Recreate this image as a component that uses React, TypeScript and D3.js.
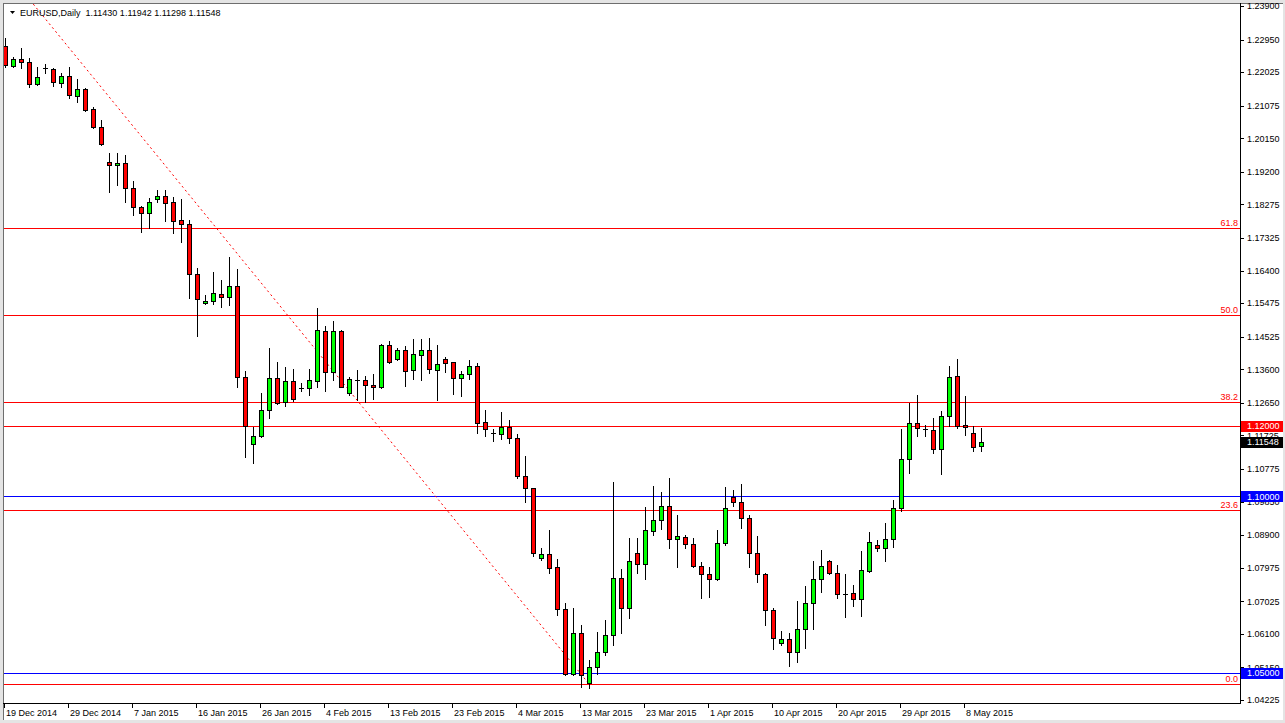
import React from 'react';
import * as d3 from 'd3';

const W = 1285;
const H = 723;

// Daily EURUSD candles (index 0 = 19 Dec 2014)
const openP = [
  1.2277, 1.2220, 1.2240, 1.2231, 1.2169, 1.2215, 1.2211, 1.2172, 1.2192, 1.2135,
  1.2155, 1.2098, 1.2047, 1.1948, 1.1939, 1.1945, 1.1874, 1.1820, 1.1803, 1.1843,
  1.1851, 1.1834, 1.1783, 1.1772, 1.1630, 1.1548, 1.1554, 1.1574, 1.1565, 1.1596,
  1.1338, 1.1148, 1.1171, 1.1245, 1.1335, 1.1267, 1.1327, 1.1307, 1.1307, 1.1327,
  1.1469, 1.1352, 1.1469, 1.1293, 1.1330, 1.1330, 1.1316, 1.1310, 1.1429, 1.1389,
  1.1415, 1.1358, 1.1401, 1.1415, 1.1358, 1.1389, 1.1381, 1.1335, 1.1347, 1.1369,
  1.1211, 1.1180, 1.1177, 1.1196, 1.1165, 1.1058, 1.1024, 1.0825, 1.0836, 1.0800,
  1.0680, 1.0496, 1.0612, 1.0471, 1.0516, 1.0559, 1.0607, 1.0768, 1.0683, 1.0839,
  1.0808, 1.0902, 1.0933, 1.0973, 1.0879, 1.0885, 1.0865, 1.0802, 1.0780, 1.0766,
  1.0868, 1.0998, 1.0984, 1.0938, 1.0839, 1.0780, 1.0678, 1.0584, 1.0595, 1.0559,
  1.0624, 1.0698, 1.0766, 1.0817, 1.0783, 1.0723, 1.0726, 1.0709, 1.0788, 1.0862,
  1.0853, 1.0879, 1.0967, 1.1106, 1.1208, 1.1192, 1.1188, 1.1134, 1.1228, 1.1341,
  1.1202, 1.1179, 1.11430,
];
const highP = [
  1.2299, 1.2245, 1.2271, 1.2243, 1.2217, 1.2226, 1.2213, 1.2200, 1.2217, 1.2183,
  1.2158, 1.2104, 1.2067, 1.1973, 1.1973, 1.1968, 1.1894, 1.1823, 1.1846, 1.1868,
  1.1868, 1.1849, 1.1843, 1.1783, 1.1647, 1.1571, 1.1636, 1.1613, 1.1678, 1.1644,
  1.1355, 1.1196, 1.1293, 1.1420, 1.1381, 1.1367, 1.1361, 1.1321, 1.1361, 1.1534,
  1.1483, 1.1497, 1.1471, 1.1338, 1.1358, 1.1341, 1.1347, 1.1432, 1.1440, 1.1420,
  1.1426, 1.1446, 1.1446, 1.1449, 1.1429, 1.1395, 1.1381, 1.1355, 1.1386, 1.1378,
  1.1245, 1.1191, 1.1239, 1.1216, 1.1177, 1.1114, 1.1024, 1.0853, 1.0904, 1.0822,
  1.0698, 1.0683, 1.0635, 1.0536, 1.0615, 1.0649, 1.1041, 1.0794, 1.0882, 1.0882,
  1.0970, 1.1029, 1.1012, 1.1052, 1.0947, 1.0890, 1.0882, 1.0814, 1.0800, 1.0904,
  1.1026, 1.1018, 1.1035, 1.0947, 1.0887, 1.0783, 1.0683, 1.0618, 1.0612, 1.0703,
  1.0746, 1.0817, 1.0848, 1.0819, 1.0805, 1.0780, 1.0749, 1.0845, 1.0899, 1.0876,
  1.0924, 1.0990, 1.1191, 1.1265, 1.1287, 1.1202, 1.1222, 1.1242, 1.1369, 1.1389,
  1.1284, 1.1199, 1.11942,
];
const lowP = [
  1.2217, 1.2217, 1.2214, 1.2160, 1.2167, 1.2200, 1.2163, 1.2160, 1.2129, 1.2118,
  1.2092, 1.2044, 1.1997, 1.1863, 1.1883, 1.1834, 1.1797, 1.1749, 1.1761, 1.1834,
  1.1780, 1.1746, 1.1721, 1.1562, 1.1454, 1.1546, 1.1546, 1.1537, 1.1542, 1.1310,
  1.1111, 1.1094, 1.1169, 1.1222, 1.1263, 1.1256, 1.1270, 1.1299, 1.1287, 1.1310,
  1.1299, 1.1330, 1.1310, 1.1287, 1.1273, 1.1267, 1.1276, 1.1308, 1.1378, 1.1387,
  1.1313, 1.1333, 1.1330, 1.1350, 1.1273, 1.1352, 1.1290, 1.1284, 1.1333, 1.1179,
  1.1171, 1.1157, 1.1162, 1.1151, 1.1052, 1.0984, 1.0831, 1.0819, 1.0783, 1.0663,
  1.0493, 1.0494, 1.0459, 1.0457, 1.0496, 1.0550, 1.0578, 1.0612, 1.0655, 1.0783,
  1.0766, 1.0890, 1.0907, 1.0853, 1.0800, 1.0853, 1.0800, 1.0712, 1.0715, 1.0764,
  1.0862, 1.0973, 1.0910, 1.0800, 1.0757, 1.0635, 1.0567, 1.0578, 1.0519, 1.0530,
  1.0570, 1.0624, 1.0729, 1.0780, 1.0712, 1.0658, 1.0689, 1.0661, 1.0785, 1.0845,
  1.0817, 1.0856, 1.0958, 1.1066, 1.1171, 1.1171, 1.1123, 1.1063, 1.1199, 1.1194,
  1.1174, 1.1128, 1.11298,
];
const closeP = [
  1.2223, 1.2240, 1.2231, 1.2169, 1.2189, 1.2214, 1.2175, 1.2192, 1.2138, 1.2155,
  1.2095, 1.2047, 1.1999, 1.1939, 1.1945, 1.1874, 1.1820, 1.1803, 1.1834, 1.1851,
  1.1832, 1.1780, 1.1772, 1.1630, 1.1559, 1.1554, 1.1576, 1.1565, 1.1596, 1.1338,
  1.1199, 1.1171, 1.1245, 1.1335, 1.1265, 1.1327, 1.1276, 1.1306, 1.1330, 1.1471,
  1.1352, 1.1469, 1.1310, 1.1333, 1.1329, 1.1316, 1.1310, 1.1429, 1.1381, 1.1415,
  1.1355, 1.1403, 1.1415, 1.1361, 1.1375, 1.1378, 1.1335, 1.1347, 1.1369, 1.1208,
  1.1191, 1.1179, 1.1196, 1.1165, 1.1058, 1.1024, 1.0839, 1.0836, 1.0797, 1.0680,
  1.0496, 1.0612, 1.0493, 1.0516, 1.0559, 1.0607, 1.0768, 1.0683, 1.0817, 1.0808,
  1.0904, 1.0933, 1.0973, 1.0879, 1.0887, 1.0865, 1.0802, 1.0780, 1.0766, 1.0868,
  1.0967, 1.0984, 1.0938, 1.0839, 1.0780, 1.0678, 1.0598, 1.0595, 1.0559, 1.0624,
  1.0698, 1.0766, 1.0802, 1.0783, 1.0723, 1.0722, 1.0709, 1.0791, 1.0870, 1.0853,
  1.0879, 1.0967, 1.1106, 1.1208, 1.1194, 1.1191, 1.1134, 1.1228, 1.1338, 1.1199,
  1.1196, 1.1140, 1.11548,
];

const dateLabels = [
  '19 Dec 2014', '29 Dec 2014', '7 Jan 2015', '16 Jan 2015', '26 Jan 2015',
  '4 Feb 2015', '13 Feb 2015', '23 Feb 2015', '4 Mar 2015', '13 Mar 2015',
  '23 Mar 2015', '1 Apr 2015', '10 Apr 2015', '20 Apr 2015', '29 Apr 2015', '8 May 2015',
];
const barsPerLabel = 8;

const priceTicks = [
  1.239, 1.2295, 1.22025, 1.21075, 1.2015, 1.192, 1.18275, 1.17325, 1.164, 1.15475,
  1.14525, 1.136, 1.1265, 1.11725, 1.10775, 1.0985, 1.089, 1.07975, 1.07025, 1.061,
  1.0515, 1.04225,
];

const fibLowPrice = 1.0468;
const fibHighPrice = 1.256;
const fibLevels = [0, 23.6, 38.2, 50.0, 61.8, 100];
const fibAnchorIndex = [-2.4, 73];

const redLines = [1.12];
const blueLines = [1.1, 1.05];

const symbol = 'EURUSD,Daily';
const lastQuote = [1.1143, 1.11942, 1.11298, 1.11548];

const FONT = '"Liberation Sans", Arial, sans-serif';

export default function App() {
  const plotL = 3;
  const plotR = 1240;
  const plotT = 3;
  const plotB = 703;

  const x = d3.scaleLinear().domain([0, openP.length - 1]).range([5, 5 + 8 * (openP.length - 1)]);
  const y = d3.scaleLinear().domain([1.04225, 1.239]).range([700, 6]);

  const fmt = (v: number) => v.toFixed(5);
  const py = (p: number) => Math.round(y(p)) + 0.5;

  const candles = openP.map((o, i) => {
    const c = closeP[i];
    const h = highP[i];
    const l = lowP[i];
    const cx = Math.round(x(i));
    const yo = Math.round(y(o));
    const yc = Math.round(y(c));
    const yh = Math.round(y(h));
    const yl = Math.round(y(l));
    const top = Math.min(yo, yc);
    const bot = Math.max(yo, yc);
    const bull = c >= o;
    return (
      <g key={i}>
        <line x1={cx + 0.5} x2={cx + 0.5} y1={yh} y2={yl + 1} stroke="#000" strokeWidth={1} />
        {bot - top < 1 ? (
          <line x1={cx - 2} x2={cx + 3} y1={top + 0.5} y2={top + 0.5} stroke="#000" strokeWidth={1} />
        ) : (
          <rect
            x={cx - 1.5}
            y={top + 0.5}
            width={4}
            height={bot - top}
            fill={bull ? '#00ff00' : '#ff0000'}
            stroke="#000"
            strokeWidth={1}
          />
        )}
      </g>
    );
  });

  const fibRange = fibHighPrice - fibLowPrice;
  const fibPrices = fibLevels.map((lv) => fibLowPrice + (fibRange * lv) / 100);

  const boxes = [
    ...redLines.map((p) => ({ p, bg: '#ff0000' })),
    { p: lastQuote[3], bg: '#000000' },
    ...blueLines.map((p) => ({ p, bg: '#0000ff' })),
  ];

  return (
    <div style={{ position: 'absolute', left: 0, top: 0 }}>
      <svg width={W} height={H} style={{ display: 'block', fontFamily: FONT }}>
        <defs>
          <clipPath id="plot">
            <rect x={plotL + 1} y={plotT + 1} width={plotR - plotL - 1} height={plotB - plotT - 1} />
          </clipPath>
        </defs>
        <rect x={0} y={0} width={W} height={H} fill="#e4e4e4" />
        <rect x={3} y={3} width={1280} height={717} fill="#ffffff" />
        <line x1={3.5} x2={3.5} y1={3} y2={720} stroke="#6e6e6e" />
        <line x1={3} x2={1283} y1={3.5} y2={3.5} stroke="#6e6e6e" />

        <g clipPath="url(#plot)">
          {fibPrices.map((p, i) => (
            <line key={'f' + i} x1={plotL} x2={plotR} y1={py(p)} y2={py(p)} stroke="#ff0000" strokeWidth={1} />
          ))}
          {redLines.map((p, i) => (
            <line key={'r' + i} x1={plotL} x2={plotR} y1={py(p)} y2={py(p)} stroke="#ff0000" strokeWidth={1} />
          ))}
          {blueLines.map((p, i) => (
            <line key={'b' + i} x1={plotL} x2={plotR} y1={py(p)} y2={py(p)} stroke="#0000ff" strokeWidth={1} />
          ))}
          <line
            x1={x(fibAnchorIndex[0])}
            y1={y(fibHighPrice)}
            x2={x(fibAnchorIndex[1])}
            y2={y(fibLowPrice)}
            stroke="#ff0000"
            strokeWidth={1}
            strokeDasharray="2,3"
          />
          {candles}
        </g>

        {fibLevels.map((lv, i) =>
          fibPrices[i] > 1.04225 && fibPrices[i] < 1.239 ? (
            <text key={'fl' + i} x={1238} y={Math.round(y(fibPrices[i])) - 2} fontSize={9} fill="#ff0000" textAnchor="end">
              {lv.toFixed(1)}
            </text>
          ) : null
        )}

        {/* axes */}
        <line x1={plotR + 0.5} x2={plotR + 0.5} y1={plotT} y2={plotB + 1} stroke="#000" />
        <line x1={plotL} x2={plotR + 1} y1={plotB + 0.5} y2={plotB + 0.5} stroke="#000" />

        {priceTicks.map((p, i) => (
          <g key={'pt' + i}>
            <line x1={plotR + 1} x2={plotR + 4} y1={py(p)} y2={py(p)} stroke="#000" />
            <text x={1247} y={y(p) + 3.3} fontSize={9} fill="#000">
              {fmt(p)}
            </text>
          </g>
        ))}

        {boxes.map((b, i) => (
          <g key={'bx' + i}>
            <rect x={1241} y={Math.round(y(b.p)) - 5} width={42} height={11} fill={b.bg} />
            <text x={1247} y={y(b.p) + 3.5} fontSize={9} fill="#ffffff">
              {fmt(b.p)}
            </text>
          </g>
        ))}

        {dateLabels.map((d, k) => {
          const tx = Math.round(x(k * barsPerLabel)) - 1;
          return (
            <g key={'d' + k}>
              <line x1={tx + 0.5} x2={tx + 0.5} y1={plotB} y2={plotB + 5} stroke="#000" />
              <text x={tx + 2} y={716} fontSize={9} fill="#000">
                {d}
              </text>
            </g>
          );
        })}

        <path d="M10,11 L15,11 L12.5,14 Z" fill="#000" />
        <text x={20} y={16} fontSize={9} fill="#000" style={{ whiteSpace: 'pre' }}>
          {symbol + '  ' + lastQuote.map(fmt).join(' ')}
        </text>
      </svg>
    </div>
  );
}
